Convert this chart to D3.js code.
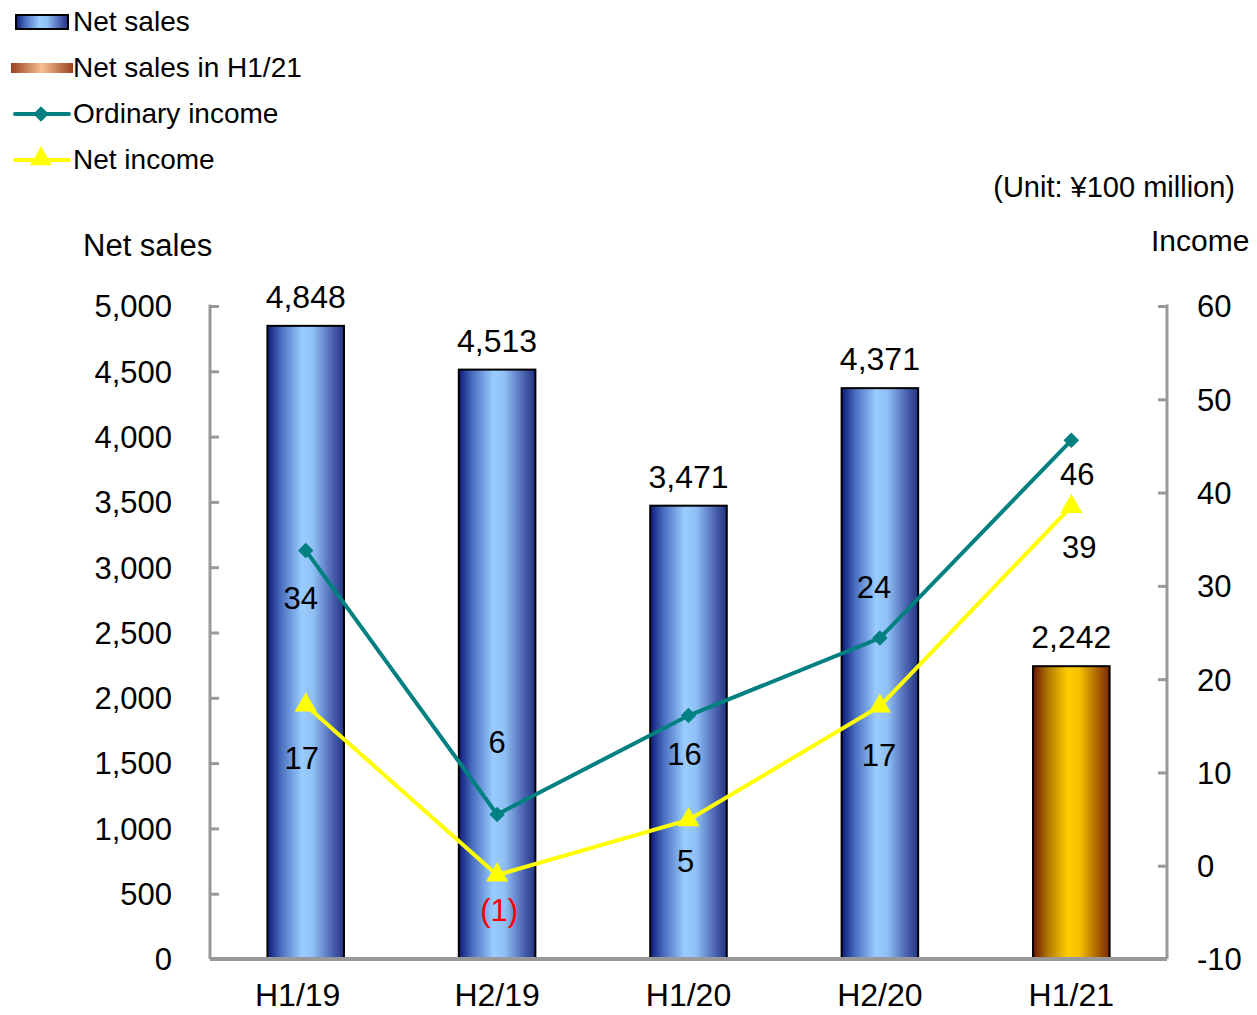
<!DOCTYPE html>
<html>
<head>
<meta charset="utf-8">
<script src="https://cdn.jsdelivr.net/npm/d3@7"></script>
<style>
  body { margin: 0; background: #fff; }
  text { font-family: "Liberation Sans", Arial, sans-serif; fill: #000; }
</style>
</head>
<body>
<div id="chart"></div>
<script>
// data (unit: 100 million yen)
var periods = ["H1/19", "H2/19", "H1/20", "H2/20", "H1/21"];
var netSales = [4848, 4513, 3471, 4371, 2242];
var ordinaryIncome = [33.8, 5.5, 16.1, 24.4, 45.6];
var netIncome = [17.2, -1.0, 4.9, 17.1, 38.5];
var ordinaryLabels = ["34", "6", "16", "24", "46"];
var netIncomeLabels = ["17", "(1)", "5", "17", "39"];
var salesTicks = [0, 500, 1000, 1500, 2000, 2500, 3000, 3500, 4000, 4500, 5000];
var incomeTicks = [-10, 0, 10, 20, 30, 40, 50, 60];

// label nudges (px) relative to each marker
var oiLabelDx = [-5, 0, -4, -6, 6], oiLabelDy = [48, -72, 39, -51, 34];
var niLabelDx = [-4, 2, -3, -1, 8], niLabelDy = [53, 35, 41, 49, 41];

var W = 1257, H = 1015;
var margin = {top: 306, right: 90, bottom: 56, left: 210},
    width = W - margin.left - margin.right,
    height = H - margin.top - margin.bottom;

var svg = d3.select("#chart").append("svg")
    .attr("width", W)
    .attr("height", H);

var defs = svg.append("defs");
function hGrad(id, stops) {
    var gr = defs.append("linearGradient").attr("id", id)
        .attr("x1", "0%").attr("x2", "100%").attr("y1", "0%").attr("y2", "0%");
    stops.forEach(s => gr.append("stop").attr("offset", s[0]).attr("stop-color", s[1]));
}
hGrad("blueBar", [["0%", "#0d1a78"], ["18%", "#4a6fc0"], ["45%", "#99ccff"], ["60%", "#8fc0f5"], ["85%", "#4a62b0"], ["100%", "#233381"]]);
hGrad("goldBar", [["0%", "#6e1200"], ["20%", "#b07a00"], ["45%", "#ffcc00"], ["60%", "#f8c400"], ["85%", "#a86000"], ["100%", "#7a2800"]]);
hGrad("copper", [["0%", "#9a4020"], ["50%", "#f7c090"], ["100%", "#9a4020"]]);

var g = svg.append("g").attr("transform", `translate(${margin.left},${margin.top})`);

var x = d3.scaleBand().domain(periods).range([0, width]);
var ySales = d3.scaleLinear().domain([0, 5000]).range([height, 0]);
var yInc = d3.scaleLinear().domain([-10, 60]).range([height, 0]);

var axisColor = "#999999";
var fs = 31;

// left axis (ticks point inward)
var leftAxis = g.append("g")
    .call(d3.axisRight(ySales).tickValues(salesTicks).tickSize(9).tickFormat(d3.format(",")));
leftAxis.select(".domain").remove();
leftAxis.selectAll(".tick line").attr("stroke", axisColor).attr("stroke-width", 3);
leftAxis.selectAll(".tick text").attr("x", -38).attr("text-anchor", "end")
    .style("font-size", fs + "px").attr("dy", "0.35em");
g.append("line").attr("x1", 0).attr("x2", 0).attr("y1", -1.5).attr("y2", height)
    .attr("stroke", axisColor).attr("stroke-width", 3);

// right axis (ticks point inward)
var rightAxis = g.append("g").attr("transform", `translate(${width},0)`)
    .call(d3.axisLeft(yInc).tickValues(incomeTicks).tickSize(9).tickFormat(d => String(d)));
rightAxis.select(".domain").remove();
rightAxis.selectAll(".tick line").attr("stroke", axisColor).attr("stroke-width", 3);
rightAxis.selectAll(".tick text").attr("x", 30).attr("text-anchor", "start")
    .style("font-size", fs + "px").attr("dy", "0.35em");
g.append("line").attr("x1", width).attr("x2", width).attr("y1", -1.5).attr("y2", height)
    .attr("stroke", axisColor).attr("stroke-width", 3);

// bars
var barW = x.bandwidth() * 0.4;
g.selectAll("rect.bar")
    .data(netSales)
    .join("rect")
    .attr("class", "bar")
    .attr("x", (d, i) => x(periods[i]) + (x.bandwidth() - barW) / 2)
    .attr("y", d => ySales(d))
    .attr("width", barW)
    .attr("height", d => height - ySales(d))
    .attr("fill", (d, i) => i === periods.length - 1 ? "url(#goldBar)" : "url(#blueBar)")
    .attr("stroke", "#000")
    .attr("stroke-width", 2);

g.selectAll("text.barlabel")
    .data(netSales)
    .join("text")
    .attr("class", "barlabel")
    .attr("x", (d, i) => x(periods[i]) + x.bandwidth() / 2)
    .attr("y", d => ySales(d) - 18)
    .attr("text-anchor", "middle")
    .style("font-size", "32px")
    .text(d => d3.format(",")(d));

// x axis baseline + category labels
g.append("line").attr("x1", 0).attr("x2", width).attr("y1", height).attr("y2", height)
    .attr("stroke", axisColor).attr("stroke-width", 4);
g.selectAll("text.xlabel")
    .data(periods)
    .join("text")
    .attr("class", "xlabel")
    .attr("x", (d, i) => x(d) + x.bandwidth() / 2 + (i === 0 ? -8 : 0))
    .attr("y", height + 47)
    .attr("text-anchor", "middle")
    .style("font-size", "32px")
    .text(d => d);

var cx = (d, i) => x(periods[i]) + x.bandwidth() / 2;

// lines
var line = d3.line().x((d, i) => cx(d, i)).y(d => yInc(d));
g.append("path").datum(netIncome).attr("d", line)
    .attr("fill", "none").attr("stroke", "#ffff00").attr("stroke-width", 4);
g.append("path").datum(ordinaryIncome).attr("d", line)
    .attr("fill", "none").attr("stroke", "#008080").attr("stroke-width", 4);

var diamond = d3.symbol().type(d3.symbolSquare).size(120);
var tri = d3.symbol().type(d3.symbolTriangle).size(210);

g.selectAll("path.tri")
    .data(netIncome)
    .join("path")
    .attr("class", "tri")
    .attr("d", tri)
    .attr("transform", (d, i) => `translate(${cx(d, i)},${yInc(d)})`)
    .attr("fill", "#ffff00");

g.selectAll("path.dia")
    .data(ordinaryIncome)
    .join("path")
    .attr("class", "dia")
    .attr("d", diamond)
    .attr("transform", (d, i) => `translate(${cx(d, i)},${yInc(d)}) rotate(45)`)
    .attr("fill", "#008080");

// point labels
g.selectAll("text.oilabel")
    .data(ordinaryIncome)
    .join("text")
    .attr("class", "oilabel")
    .attr("x", (d, i) => cx(d, i) + oiLabelDx[i])
    .attr("y", (d, i) => yInc(d) + oiLabelDy[i])
    .attr("dy", "0.35em")
    .attr("text-anchor", "middle")
    .style("font-size", fs + "px")
    .text((d, i) => ordinaryLabels[i]);

g.selectAll("text.nilabel")
    .data(netIncome)
    .join("text")
    .attr("class", "nilabel")
    .attr("x", (d, i) => cx(d, i) + niLabelDx[i])
    .attr("y", (d, i) => yInc(d) + niLabelDy[i])
    .attr("dy", "0.35em")
    .attr("text-anchor", "middle")
    .style("font-size", fs + "px")
    .style("fill", d => d < 0 ? "#ff0000" : "#000")
    .text((d, i) => netIncomeLabels[i]);

// axis titles
svg.append("text").attr("x", 83).attr("y", 256).style("font-size", fs + "px").text("Net sales");
svg.append("text").attr("x", 1151).attr("y", 251).style("font-size", "30px").text("Income");
svg.append("text").attr("x", 1235).attr("y", 197).attr("text-anchor", "end")
    .style("font-size", "29px").text("(Unit: ¥100 million)");

// legend
var lg = svg.append("g");
var lfs = "28px";
lg.append("rect").attr("x", 16).attr("y", 15).attr("width", 52).attr("height", 14)
    .attr("fill", "url(#blueBar)").attr("stroke", "#000").attr("stroke-width", 2);
lg.append("text").attr("x", 73).attr("y", 31).style("font-size", lfs).text("Net sales");
lg.append("rect").attr("x", 11).attr("y", 63).attr("width", 62).attr("height", 10)
    .attr("fill", "url(#copper)");
lg.append("text").attr("x", 73).attr("y", 77).style("font-size", lfs).text("Net sales in H1/21");
lg.append("line").attr("x1", 15).attr("x2", 69).attr("y1", 114).attr("y2", 114)
    .attr("stroke", "#008080").attr("stroke-width", 4).attr("stroke-linecap", "round");
lg.append("path").attr("d", diamond).attr("transform", "translate(41,114) rotate(45)").attr("fill", "#008080");
lg.append("text").attr("x", 73).attr("y", 123).style("font-size", lfs).text("Ordinary income");
lg.append("line").attr("x1", 15).attr("x2", 69).attr("y1", 160).attr("y2", 160)
    .attr("stroke", "#ffff00").attr("stroke-width", 4).attr("stroke-linecap", "round");
lg.append("path").attr("d", tri).attr("transform", "translate(41,159)").attr("fill", "#ffff00");
lg.append("text").attr("x", 73).attr("y", 169).style("font-size", lfs).text("Net income");
</script>
</body>
</html>
